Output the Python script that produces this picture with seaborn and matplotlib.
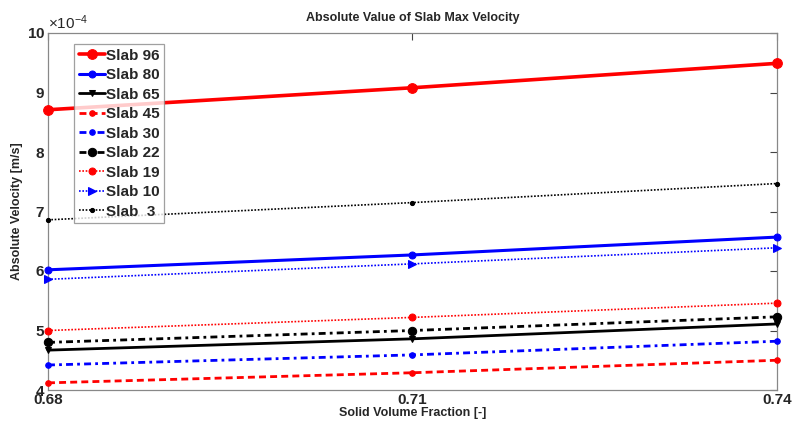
import matplotlib
matplotlib.use("Agg")
import matplotlib.pyplot as plt
import matplotlib.ticker as mticker
import numpy as np
import pandas as pd
import seaborn as sns

# Solid volume fraction sample points
fractions = [0.68, 0.71, 0.74]

# Max absolute velocity per slab [m/s]
slab_96 = [8.71e-4, 9.08e-4, 9.49e-4]
slab_80 = [6.02e-4, 6.27e-4, 6.57e-4]
slab_65 = [4.67e-4, 4.86e-4, 5.11e-4]
slab_45 = [4.12e-4, 4.29e-4, 4.50e-4]
slab_30 = [4.42e-4, 4.59e-4, 4.82e-4]
slab_22 = [4.80e-4, 5.00e-4, 5.23e-4]
slab_19 = [5.00e-4, 5.22e-4, 5.46e-4]
slab_10 = [5.86e-4, 6.12e-4, 6.39e-4]
slab_3 = [6.86e-4, 7.15e-4, 7.47e-4]

labels = ["Slab 96", "Slab 80", "Slab 65", "Slab 45", "Slab 30",
          "Slab 22", "Slab 19", "Slab 10", "Slab  3"]
series = [slab_96, slab_80, slab_65, slab_45, slab_30,
          slab_22, slab_19, slab_10, slab_3]

styles = [
    dict(color="#ff0000", ls="-", marker="o", lw=2.6, ms=7),
    dict(color="#0000ff", ls="-", marker="o", lw=2.2, ms=5),
    dict(color="#000000", ls="-", marker="v", lw=2.0, ms=5),
    dict(color="#ff0000", ls=(0, (2.5, 1.5)), marker="o", lw=2.0, ms=4),
    dict(color="#0000ff", ls=(0, (2.5, 1.5, 1, 1.5)), marker="o", lw=2.0, ms=4),
    dict(color="#000000", ls=(0, (2.5, 1.5, 1, 1.5)), marker="o", lw=2.0, ms=6),
    dict(color="#ff0000", ls=(0, (1, 1)), marker="o", lw=1.2, ms=5),
    dict(color="#0000ff", ls=(0, (1, 1)), marker=">", lw=1.2, ms=6),
    dict(color="#000000", ls=(0, (1, 1)), marker="o", lw=1.2, ms=3),
]

df = pd.DataFrame(
    [(lab, x, v) for lab, vals in zip(labels, series) for x, v in zip(fractions, vals)],
    columns=["slab", "fraction", "velocity"],
)

sns.set_style("white")
plt.rcParams["font.family"] = ["Liberation Sans", "DejaVu Sans"]
plt.rcParams["font.weight"] = "bold"
plt.rcParams["mathtext.default"] = "regular"

fig = plt.figure(figsize=(7.92, 4.21), dpi=100)
ax = fig.add_axes([48 / 792, 1 - 390 / 421, (777 - 48) / 792, (390 - 33) / 421])

for lab, st in zip(labels, styles):
    sub = df[df["slab"] == lab]
    sns.lineplot(
        data=sub, x="fraction", y="velocity", ax=ax, label=lab,
        color=st["color"], linestyle=st["ls"], linewidth=st["lw"],
        marker=st["marker"], markersize=st["ms"],
        markeredgecolor=st["color"], markerfacecolor=st["color"],
        estimator=None, sort=False, clip_on=False, zorder=3,
    )

ax.set_xlim(0.68, 0.74)
ax.set_ylim(4e-4, 10e-4)
ax.set_xticks(fractions)
ax.set_xticklabels(["0.68", "0.71", "0.74"])
ax.set_yticks(np.arange(4, 11) * 1e-4)

fmt = mticker.ScalarFormatter(useMathText=True)
fmt.set_powerlimits((-4, -4))
ax.yaxis.set_major_formatter(fmt)
ax.yaxis.get_offset_text().set_fontsize(11)
ax.yaxis.get_offset_text().set_fontweight("normal")

ax.tick_params(axis="both", direction="in", length=5, width=0.8,
               color="#444444", labelsize=11, top=True, right=True,
               pad=2)
for t in ax.get_xticklabels() + ax.get_yticklabels():
    t.set_fontweight("bold")

for sp in ax.spines.values():
    sp.set_color("#888888")
    sp.set_linewidth(0.9)

ax.set_title("Absolute Value of Slab Max Velocity", fontsize=9,
             fontweight="bold", pad=8.5)
ax.set_xlabel("Solid Volume Fraction [-]", fontsize=9, fontweight="bold",
              labelpad=0)
ax.set_ylabel("Absolute Velocity [m/s]", fontsize=9, fontweight="bold",
              labelpad=3)

leg = ax.legend(loc="upper left", bbox_to_anchor=(26 / 729, 1 - 11 / 357),
                fontsize=11, frameon=True, fancybox=False,
                handlelength=1.7, handletextpad=0.1, labelspacing=0.36,
                borderpad=0.3, borderaxespad=0)
leg.get_frame().set_edgecolor("#888888")
leg.get_frame().set_linewidth(0.9)
for t in leg.get_texts():
    t.set_fontweight("bold")

fig.savefig("out.png", dpi=100)
